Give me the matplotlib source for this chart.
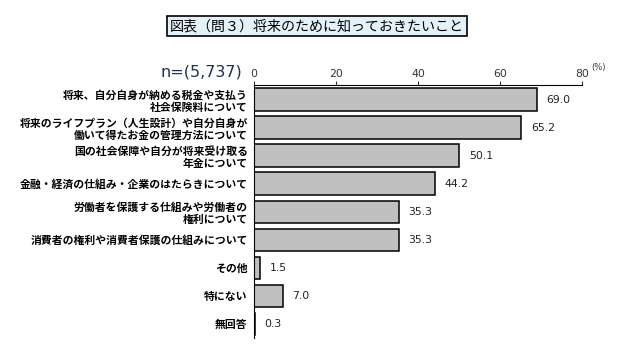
import matplotlib
matplotlib.use('Agg')
import matplotlib.pyplot as plt

plt.rcParams['font.family'] = ['Noto Sans CJK JP', 'DejaVu Sans']

labels = ['将来、自分自身が納める税金や支払う\n社会保険料について',
          '将来のライフプラン（人生設計）や自分自身が\n働いて得たお金の管理方法について',
          '国の社会保障や自分が将来受け取る\n年金について',
          '金融・経済の仕組み・企業のはたらきについて',
          '労働者を保護する仕組みや労働者の\n権利について',
          '消費者の権利や消費者保護の仕組みについて',
          'その他',
          '特にない',
          '無回答']
values = [69.0, 65.2, 50.1, 44.2, 35.3, 35.3, 1.5, 7.0, 0.3]
ticks = [0, 20, 40, 60, 80]

fig = plt.figure(figsize=(6.34, 3.53), dpi=100)
ax = fig.add_axes([0.4006, 0.043, 0.5174, 0.716])

ypos = list(range(len(values)))
ax.barh(ypos, values, height=0.8, color='#C0C0C0', edgecolor='black', linewidth=1.1)
for y, v in zip(ypos, values):
    ax.text(v + 2.3, y, f'{v:.1f}', va='center', ha='left', fontsize=7.8,
            color='#222222', family='DejaVu Sans')

ax.set_xlim(0, 80)
ax.set_ylim(8.5, -0.52)
ax.xaxis.tick_top()
ax.set_xticks(ticks)
ax.set_xticklabels([str(t) for t in ticks], family='DejaVu Sans')
ax.tick_params(axis='x', labelsize=7.8, length=3, pad=1.5, colors='#333333')
ax.set_yticks(ypos)
ax.set_yticklabels(labels, fontsize=7.8, fontweight='bold', linespacing=1.25)
ax.tick_params(axis='y', length=0, pad=4.5)
for lab in ax.get_yticklabels():
    lab.set_ha('right')
    lab.set_multialignment('right')
for s in ['right', 'bottom']:
    ax.spines[s].set_visible(False)
ax.spines['top'].set_linewidth(0.8)
ax.spines['left'].set_linewidth(0.8)

fig.text(0.933, 0.808, '(%)', fontsize=6, color='#333333', ha='left', va='center',
         family='DejaVu Sans')
fig.text(0.382, 0.796, 'n=(5,737)', fontsize=11.5, color='#1F2F55', ha='right',
         va='center', family='DejaVu Sans')
fig.text(0.5, 0.926, '図表（問３）将来のために知っておきたいこと', fontsize=10.1,
         ha='center', va='center',
         bbox=dict(boxstyle='square,pad=0.2', facecolor='#E3F1F8', edgecolor='black', linewidth=1.2))

fig.savefig('out.png', dpi=100)
